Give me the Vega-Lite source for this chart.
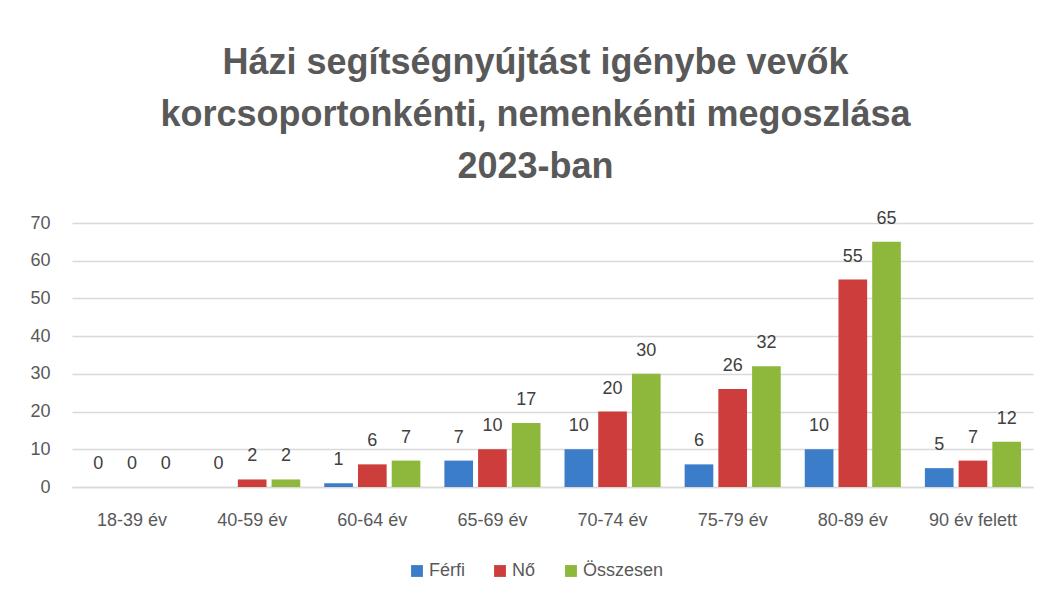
{
  "$schema": "https://vega.github.io/schema/vega-lite/v6.json",
  "autosize": {"type": "none"},
  "width": 961,
  "height": 264,
  "padding": {"left": 72, "top": 223, "right": 16, "bottom": 113},
  "background": "white",
  "title": {
    "text": ["Házi segítségnyújtást igénybe vevők", "korcsoportonkénti, nemenkénti megoszlása", "2023-ban"],
    "font": "Liberation Sans",
    "fontSize": 36,
    "fontWeight": "bold",
    "color": "#595959",
    "lineHeight": 52,
    "anchor": "middle",
    "dx": -17,
    "offset": 24
  },
  "data": {
    "values": [
      {"korcsoport": "18-39 év", "nem": "Férfi", "fo": 0},
      {"korcsoport": "18-39 év", "nem": "Nő", "fo": 0},
      {"korcsoport": "18-39 év", "nem": "Összesen", "fo": 0},
      {"korcsoport": "40-59 év", "nem": "Férfi", "fo": 0},
      {"korcsoport": "40-59 év", "nem": "Nő", "fo": 2},
      {"korcsoport": "40-59 év", "nem": "Összesen", "fo": 2},
      {"korcsoport": "60-64 év", "nem": "Férfi", "fo": 1},
      {"korcsoport": "60-64 év", "nem": "Nő", "fo": 6},
      {"korcsoport": "60-64 év", "nem": "Összesen", "fo": 7},
      {"korcsoport": "65-69 év", "nem": "Férfi", "fo": 7},
      {"korcsoport": "65-69 év", "nem": "Nő", "fo": 10},
      {"korcsoport": "65-69 év", "nem": "Összesen", "fo": 17},
      {"korcsoport": "70-74 év", "nem": "Férfi", "fo": 10},
      {"korcsoport": "70-74 év", "nem": "Nő", "fo": 20},
      {"korcsoport": "70-74 év", "nem": "Összesen", "fo": 30},
      {"korcsoport": "75-79 év", "nem": "Férfi", "fo": 6},
      {"korcsoport": "75-79 év", "nem": "Nő", "fo": 26},
      {"korcsoport": "75-79 év", "nem": "Összesen", "fo": 32},
      {"korcsoport": "80-89 év", "nem": "Férfi", "fo": 10},
      {"korcsoport": "80-89 év", "nem": "Nő", "fo": 55},
      {"korcsoport": "80-89 év", "nem": "Összesen", "fo": 65},
      {"korcsoport": "90 év felett", "nem": "Férfi", "fo": 5},
      {"korcsoport": "90 év felett", "nem": "Nő", "fo": 7},
      {"korcsoport": "90 év felett", "nem": "Összesen", "fo": 12}
    ]
  },
  "encoding": {
    "x": {
      "field": "korcsoport",
      "type": "nominal",
      "sort": null,
      "scale": {"paddingInner": 0.2, "paddingOuter": 0.1},
      "axis": {
        "title": null,
        "labelAngle": 0,
        "labelFont": "Liberation Sans",
        "labelFontSize": 18,
        "labelColor": "#595959",
        "labelPadding": 24,
        "ticks": false,
        "domainColor": "#d9d9d9",
        "domainWidth": 1.5
      }
    },
    "xOffset": {
      "field": "nem",
      "type": "nominal",
      "sort": ["Férfi", "Nő", "Összesen"],
      "scale": {"paddingInner": 0.15}
    },
    "y": {
      "field": "fo",
      "type": "quantitative",
      "scale": {"domain": [0, 70], "nice": false},
      "axis": {
        "title": null,
        "values": [0, 10, 20, 30, 40, 50, 60, 70],
        "labelFont": "Liberation Sans",
        "labelFontSize": 18,
        "labelColor": "#595959",
        "labelPadding": 22,
        "ticks": false,
        "domain": false,
        "gridColor": "#d9d9d9",
        "gridWidth": 1.5
      }
    }
  },
  "layer": [
    {
      "mark": {"type": "bar"},
      "encoding": {
        "color": {
          "field": "nem",
          "type": "nominal",
          "scale": {"domain": ["Férfi", "Nő", "Összesen"], "range": ["#3b7dc8", "#cc3d3b", "#8db83c"]},
          "legend": {
            "title": null,
            "orient": "none",
            "legendX": 336,
            "legendY": 339,
            "direction": "horizontal",
            "symbolType": "square",
            "symbolSize": 140,
            "symbolStrokeWidth": 0,
            "labelFont": "Liberation Sans",
            "labelFontSize": 18,
            "labelColor": "#595959",
            "columnPadding": 26,
            "labelOffset": 3
          }
        }
      }
    },
    {
      "mark": {"type": "text", "baseline": "alphabetic", "dy": -18, "font": "Liberation Sans", "fontSize": 18, "color": "#404040"},
      "encoding": {
        "text": {"field": "fo", "type": "quantitative"}
      }
    }
  ],
  "config": {"view": {"stroke": null}}
}
